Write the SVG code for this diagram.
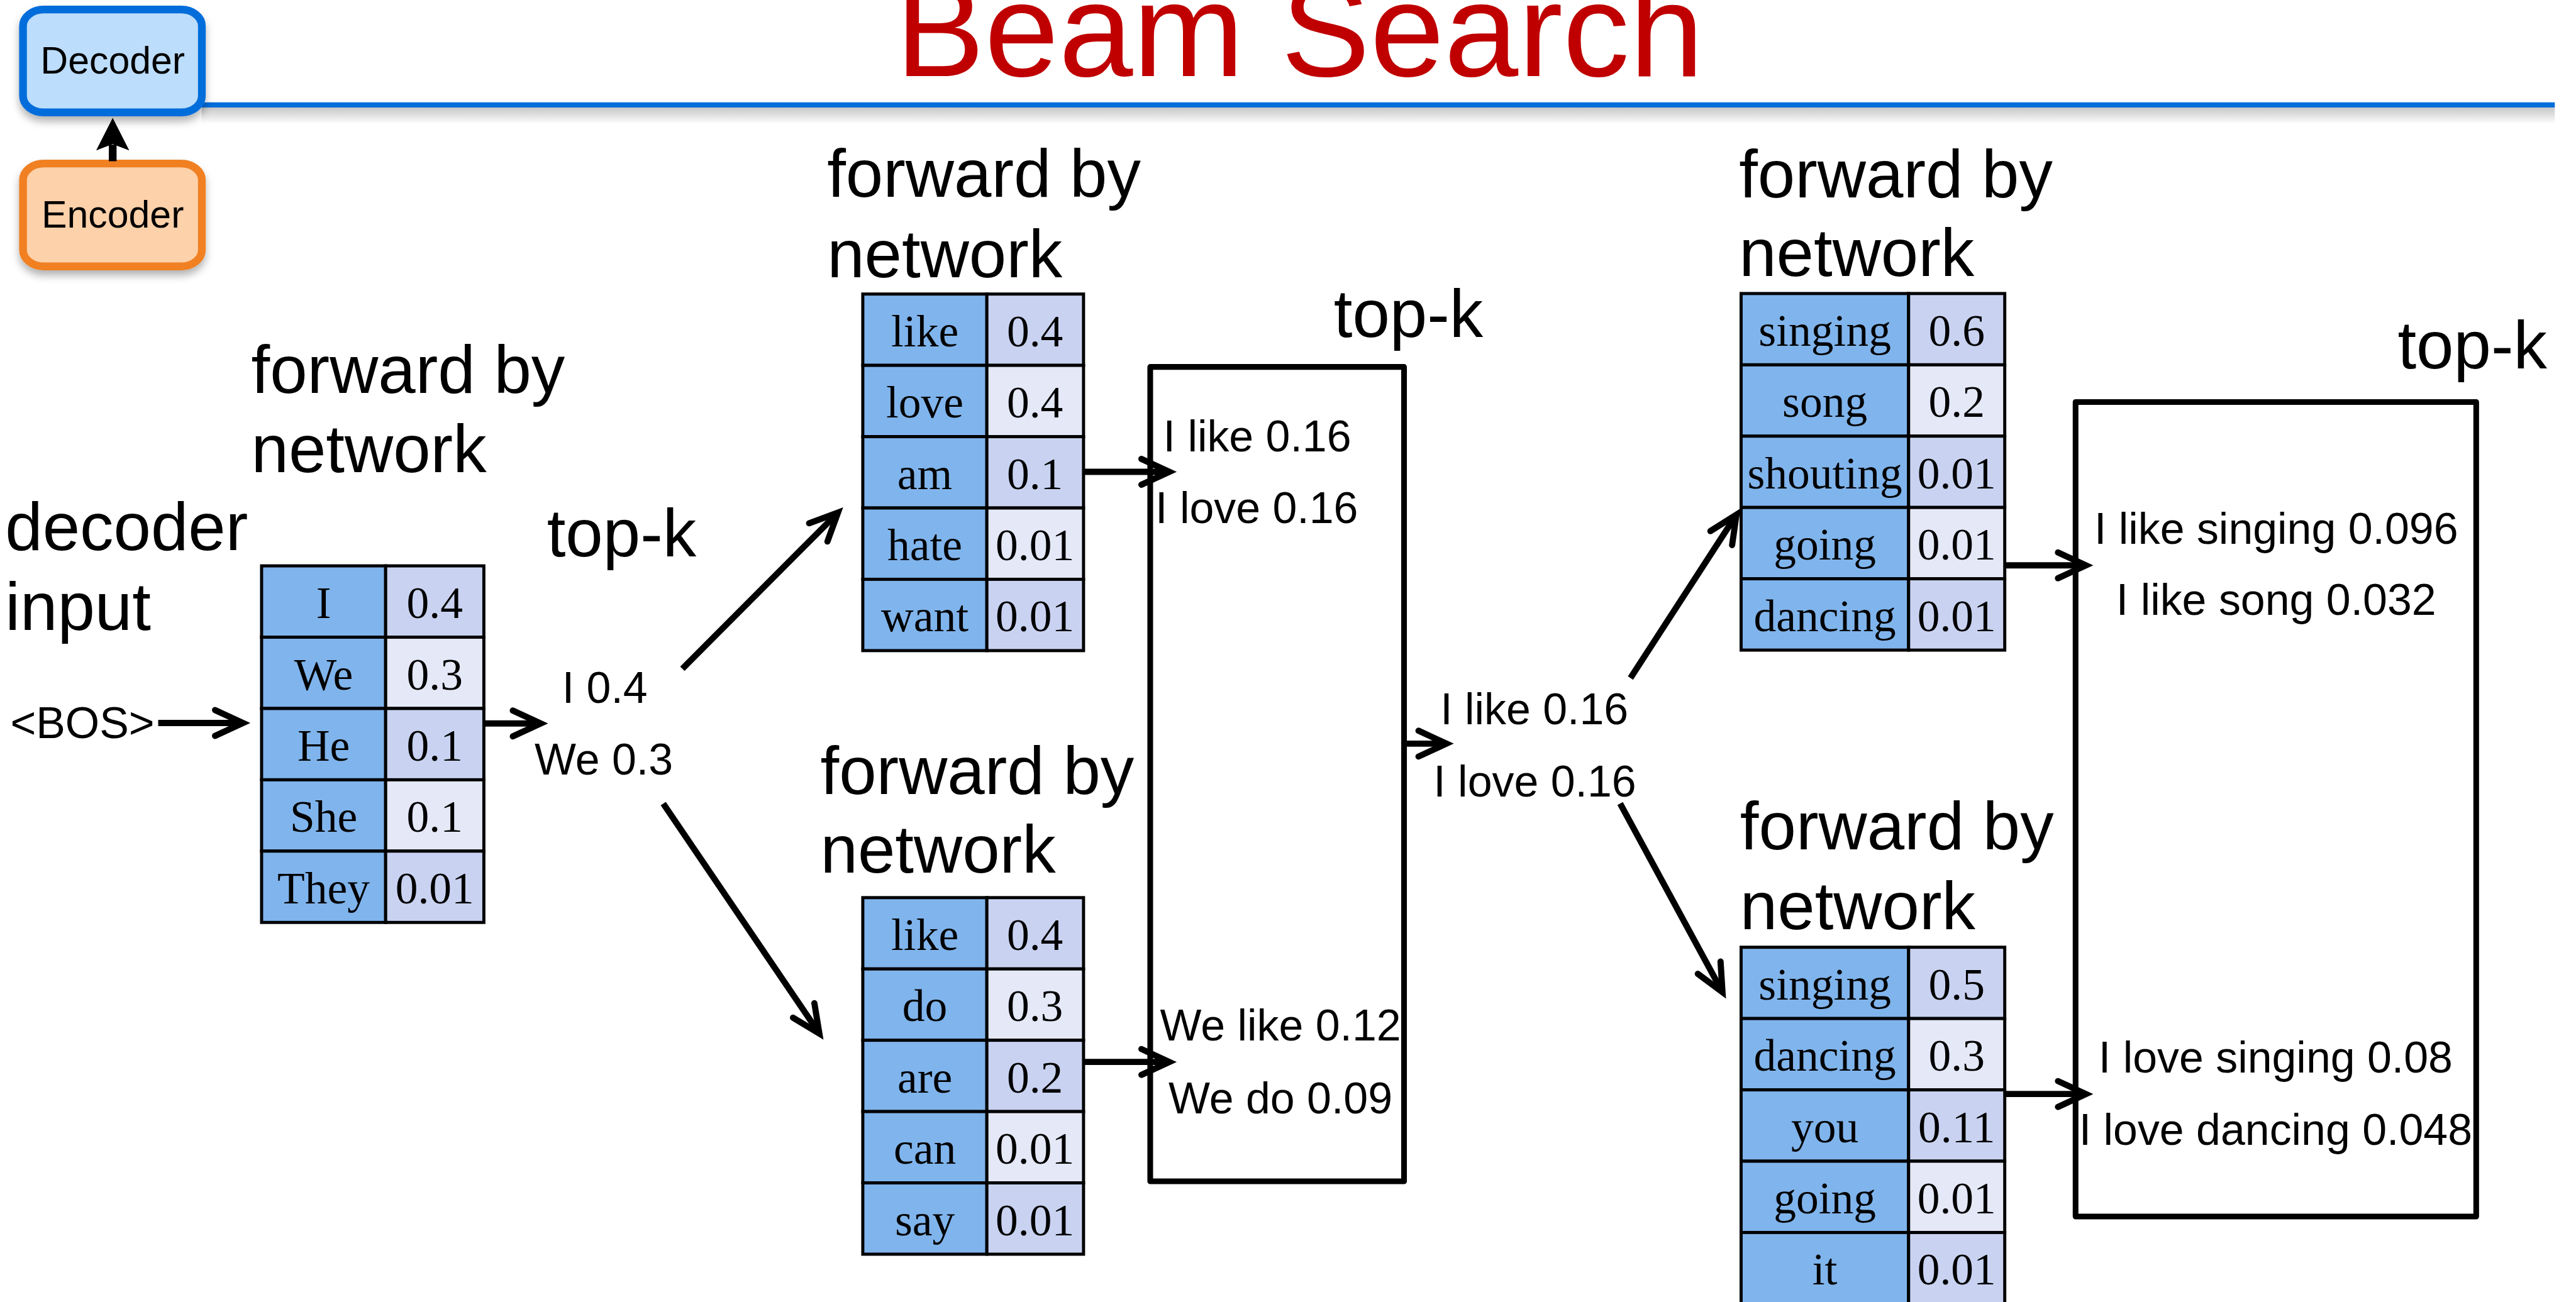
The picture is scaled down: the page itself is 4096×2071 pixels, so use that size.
<svg xmlns="http://www.w3.org/2000/svg" width="4096" height="2071" viewBox="0 0 4096 2071">
  <defs>
    <style>
      .lbl { font-family: "Liberation Sans", Arial, Helvetica, sans-serif; font-size: 130px; fill: #000; }
      .small { font-family: "Liberation Sans", Arial, Helvetica, sans-serif; font-size: 85px; fill: #000; }
      .mid { text-anchor: middle; }
      .cell { font-family: "Liberation Serif", "Times New Roman", serif; font-size: 87px; fill: #000; text-anchor: middle; }
      .w { fill: #80B4EC; stroke: #000; stroke-width: 6; }
      .pd { fill: #C9D3F1; stroke: #000; stroke-width: 6; }
      .pl { fill: #E4E8F7; stroke: #000; stroke-width: 6; }
      .box { fill: none; stroke: #000; stroke-width: 11; stroke-linejoin: round; }
      .conn { fill: none; stroke: #000; stroke-width: 12; marker-end: url(#chev); }
      .mod { font-family: "Liberation Sans", Arial, Helvetica, sans-serif; font-size: 74px; fill: #000; text-anchor: middle; }
    </style>
    <marker id="chev" markerUnits="userSpaceOnUse" viewBox="-80 -40 100 80" markerWidth="100" markerHeight="80" refX="0" refY="0" orient="auto" overflow="visible">
      <path d="M-54,-25 L0,0 L-54,25" fill="none" stroke="#000" stroke-width="12" stroke-linecap="round"/>
    </marker>
    <filter id="shadow" x="-20%" y="-20%" width="140%" height="150%">
      <feDropShadow dx="0" dy="10" stdDeviation="8" flood-color="#000" flood-opacity="0.3"/>
    </filter>
    <linearGradient id="rule-shade" x1="0" y1="0" x2="0" y2="1">
      <stop offset="0" stop-color="#000" stop-opacity="0.22"/>
      <stop offset="1" stop-color="#000" stop-opacity="0"/>
    </linearGradient>
  </defs>

  <rect x="0" y="0" width="4096" height="2071" fill="#fff"/>

  <g transform="scale(0.82199)">
    <!-- header: title and rule -->
    <g id="header">
      <text x="2514" y="147" font-family="Liberation Sans, Arial, sans-serif" font-size="258" fill="#C00000" text-anchor="middle">Beam Search</text>
      <rect x="390" y="208" width="4552" height="32" fill="url(#rule-shade)"/>
      <rect x="390" y="198" width="4552" height="10" fill="#006DDB"/>
    </g>

    <!-- encoder / decoder legend -->
    <g id="decoder" filter="url(#shadow)">
      <rect x="44.5" y="18.5" width="346" height="199" rx="40" ry="32" fill="#BCDDFB" stroke="#006DDB" stroke-width="15"/>
      <text class="mod" x="218" y="142">Decoder</text>
    </g>
    <g id="encoder" filter="url(#shadow)">
      <rect x="44.5" y="316.5" width="346" height="199" rx="40" ry="32" fill="#FDD1AA" stroke="#F08020" stroke-width="15"/>
      <text class="mod" x="218" y="440">Encoder</text>
    </g>
    <g id="enc-dec-arrow">
      <line x1="218" y1="312" x2="218" y2="280" stroke="#000" stroke-width="15"/>
      <polygon points="218,228 250,291 218,279 186,291" fill="#000"/>
    </g>

    <!-- labels -->
    <g id="labels">
      <text class="lbl" x="10" y="1065">decoder</text>
      <text class="lbl" x="10" y="1219">input</text>
      <text class="small" x="20" y="1428" font-size="82">&lt;BOS&gt;</text>
      <text class="lbl" x="486" y="760">forward by</text>
      <text class="lbl" x="486" y="914">network</text>
      <text class="lbl" x="1058" y="1077">top-k</text>
      <text class="lbl" x="1600" y="381">forward by</text>
      <text class="lbl" x="1600" y="537">network</text>
      <text class="lbl" x="2580" y="652">top-k</text>
      <text class="lbl" x="1587" y="1536">forward by</text>
      <text class="lbl" x="1587" y="1689">network</text>
      <text class="lbl" x="3364" y="382">forward by</text>
      <text class="lbl" x="3364" y="534">network</text>
      <text class="lbl" x="4638" y="713">top-k</text>
      <text class="lbl" x="3366" y="1643">forward by</text>
      <text class="lbl" x="3366" y="1798">network</text>
    </g>

    <!-- table 1: first step -->
    <g id="table1">
      <rect class="w" x="506" y="1095" width="240" height="138"/>
      <rect class="pd" x="746" y="1095" width="190" height="138"/>
      <rect class="w" x="506" y="1233" width="240" height="138"/>
      <rect class="pl" x="746" y="1233" width="190" height="138"/>
      <rect class="w" x="506" y="1371" width="240" height="138"/>
      <rect class="pd" x="746" y="1371" width="190" height="138"/>
      <rect class="w" x="506" y="1509" width="240" height="138"/>
      <rect class="pl" x="746" y="1509" width="190" height="138"/>
      <rect class="w" x="506" y="1647" width="240" height="138"/>
      <rect class="pd" x="746" y="1647" width="190" height="138"/>
      <text class="cell" x="626" y="1196">I</text><text class="cell" x="841" y="1196">0.4</text>
      <text class="cell" x="626" y="1334">We</text><text class="cell" x="841" y="1334">0.3</text>
      <text class="cell" x="626" y="1472">He</text><text class="cell" x="841" y="1472">0.1</text>
      <text class="cell" x="626" y="1610">She</text><text class="cell" x="841" y="1610">0.1</text>
      <text class="cell" x="626" y="1748">They</text><text class="cell" x="841" y="1748">0.01</text>
    </g>

    <g id="topk1">
      <text class="small mid" x="1170" y="1360">I 0.4</text>
      <text class="small mid" x="1168" y="1499">We 0.3</text>
    </g>

    <!-- table 2: after "I" -->
    <g id="table2">
      <rect class="w" x="1669" y="569" width="240" height="138"/>
      <rect class="pd" x="1909" y="569" width="187" height="138"/>
      <rect class="w" x="1669" y="707" width="240" height="138"/>
      <rect class="pl" x="1909" y="707" width="187" height="138"/>
      <rect class="w" x="1669" y="845" width="240" height="138"/>
      <rect class="pd" x="1909" y="845" width="187" height="138"/>
      <rect class="w" x="1669" y="983" width="240" height="138"/>
      <rect class="pl" x="1909" y="983" width="187" height="138"/>
      <rect class="w" x="1669" y="1121" width="240" height="138"/>
      <rect class="pd" x="1909" y="1121" width="187" height="138"/>
      <text class="cell" x="1789" y="670">like</text><text class="cell" x="2002" y="670">0.4</text>
      <text class="cell" x="1789" y="808">love</text><text class="cell" x="2002" y="808">0.4</text>
      <text class="cell" x="1789" y="946">am</text><text class="cell" x="2002" y="946">0.1</text>
      <text class="cell" x="1789" y="1084">hate</text><text class="cell" x="2002" y="1084">0.01</text>
      <text class="cell" x="1789" y="1222">want</text><text class="cell" x="2002" y="1222">0.01</text>
    </g>

    <!-- table 3: after "We" -->
    <g id="table3">
      <rect class="w" x="1669" y="1737" width="240" height="138"/>
      <rect class="pd" x="1909" y="1737" width="187" height="138"/>
      <rect class="w" x="1669" y="1875" width="240" height="138"/>
      <rect class="pl" x="1909" y="1875" width="187" height="138"/>
      <rect class="w" x="1669" y="2013" width="240" height="138"/>
      <rect class="pd" x="1909" y="2013" width="187" height="138"/>
      <rect class="w" x="1669" y="2151" width="240" height="138"/>
      <rect class="pl" x="1909" y="2151" width="187" height="138"/>
      <rect class="w" x="1669" y="2289" width="240" height="138"/>
      <rect class="pd" x="1909" y="2289" width="187" height="138"/>
      <text class="cell" x="1789" y="1838">like</text><text class="cell" x="2002" y="1838">0.4</text>
      <text class="cell" x="1789" y="1976">do</text><text class="cell" x="2002" y="1976">0.3</text>
      <text class="cell" x="1789" y="2114">are</text><text class="cell" x="2002" y="2114">0.2</text>
      <text class="cell" x="1789" y="2252">can</text><text class="cell" x="2002" y="2252">0.01</text>
      <text class="cell" x="1789" y="2390">say</text><text class="cell" x="2002" y="2390">0.01</text>
    </g>

    <!-- second top-k selection -->
    <g id="topk2">
      <rect class="box" x="2225" y="710" width="491" height="1576"/>
      <text class="small mid" x="2432" y="873">I like 0.16</text>
      <text class="small mid" x="2431" y="1012">I love 0.16</text>
      <text class="small mid" x="2477" y="2014">We like 0.12</text>
      <text class="small mid" x="2477" y="2154">We do 0.09</text>
    </g>

    <g id="beam2">
      <text class="small mid" x="2968" y="1402">I like 0.16</text>
      <text class="small mid" x="2969" y="1541">I love 0.16</text>
    </g>

    <!-- table 4: after "I like" -->
    <g id="table4">
      <rect class="w" x="3368" y="568" width="324" height="138"/>
      <rect class="pd" x="3692" y="568" width="186" height="138"/>
      <rect class="w" x="3368" y="706" width="324" height="138"/>
      <rect class="pl" x="3692" y="706" width="186" height="138"/>
      <rect class="w" x="3368" y="844" width="324" height="138"/>
      <rect class="pd" x="3692" y="844" width="186" height="138"/>
      <rect class="w" x="3368" y="982" width="324" height="138"/>
      <rect class="pl" x="3692" y="982" width="186" height="138"/>
      <rect class="w" x="3368" y="1120" width="324" height="138"/>
      <rect class="pd" x="3692" y="1120" width="186" height="138"/>
      <text class="cell" x="3530" y="669">singing</text><text class="cell" x="3785" y="669">0.6</text>
      <text class="cell" x="3530" y="807">song</text><text class="cell" x="3785" y="807">0.2</text>
      <text class="cell" x="3530" y="945">shouting</text><text class="cell" x="3785" y="945">0.01</text>
      <text class="cell" x="3530" y="1083">going</text><text class="cell" x="3785" y="1083">0.01</text>
      <text class="cell" x="3530" y="1221">dancing</text><text class="cell" x="3785" y="1221">0.01</text>
    </g>

    <!-- table 5: after "I love" -->
    <g id="table5">
      <rect class="w" x="3368" y="1833" width="324" height="138"/>
      <rect class="pd" x="3692" y="1833" width="186" height="138"/>
      <rect class="w" x="3368" y="1971" width="324" height="138"/>
      <rect class="pl" x="3692" y="1971" width="186" height="138"/>
      <rect class="w" x="3368" y="2109" width="324" height="138"/>
      <rect class="pd" x="3692" y="2109" width="186" height="138"/>
      <rect class="w" x="3368" y="2247" width="324" height="138"/>
      <rect class="pl" x="3692" y="2247" width="186" height="138"/>
      <rect class="w" x="3368" y="2385" width="324" height="138"/>
      <rect class="pd" x="3692" y="2385" width="186" height="138"/>
      <text class="cell" x="3530" y="1934">singing</text><text class="cell" x="3785" y="1934">0.5</text>
      <text class="cell" x="3530" y="2072">dancing</text><text class="cell" x="3785" y="2072">0.3</text>
      <text class="cell" x="3530" y="2210">you</text><text class="cell" x="3785" y="2210">0.11</text>
      <text class="cell" x="3530" y="2348">going</text><text class="cell" x="3785" y="2348">0.01</text>
      <text class="cell" x="3530" y="2486">it</text><text class="cell" x="3785" y="2486">0.01</text>
    </g>

    <!-- final top-k selection -->
    <g id="topk3">
      <rect class="box" x="4015" y="778" width="775" height="1576"/>
      <text class="small mid" x="4403" y="1052">I like singing 0.096</text>
      <text class="small mid" x="4403" y="1190">I like song 0.032</text>
      <text class="small mid" x="4402" y="2075">I love singing 0.08</text>
      <text class="small mid" x="4402" y="2215">I love dancing 0.048</text>
    </g>

    <!-- connectors -->
    <g id="connectors">
      <line class="conn" x1="306" y1="1399" x2="470" y2="1399"/>
      <line class="conn" x1="936" y1="1400" x2="1046" y2="1400"/>
      <line class="conn" x1="1320" y1="1294" x2="1621" y2="992"/>
      <line class="conn" x1="1283" y1="1555" x2="1585" y2="2000"/>
      <line class="conn" x1="2096" y1="913" x2="2262" y2="913"/>
      <line class="conn" x1="2096" y1="2055" x2="2262" y2="2055"/>
      <line class="conn" x1="2721" y1="1439" x2="2798" y2="1439"/>
      <line class="conn" x1="3154" y1="1312" x2="3359" y2="996"/>
      <line class="conn" x1="3134" y1="1555" x2="3332" y2="1920"/>
      <line class="conn" x1="3878" y1="1094" x2="4035" y2="1094"/>
      <line class="conn" x1="3878" y1="2117" x2="4035" y2="2117"/>
    </g>
  </g>
</svg>
